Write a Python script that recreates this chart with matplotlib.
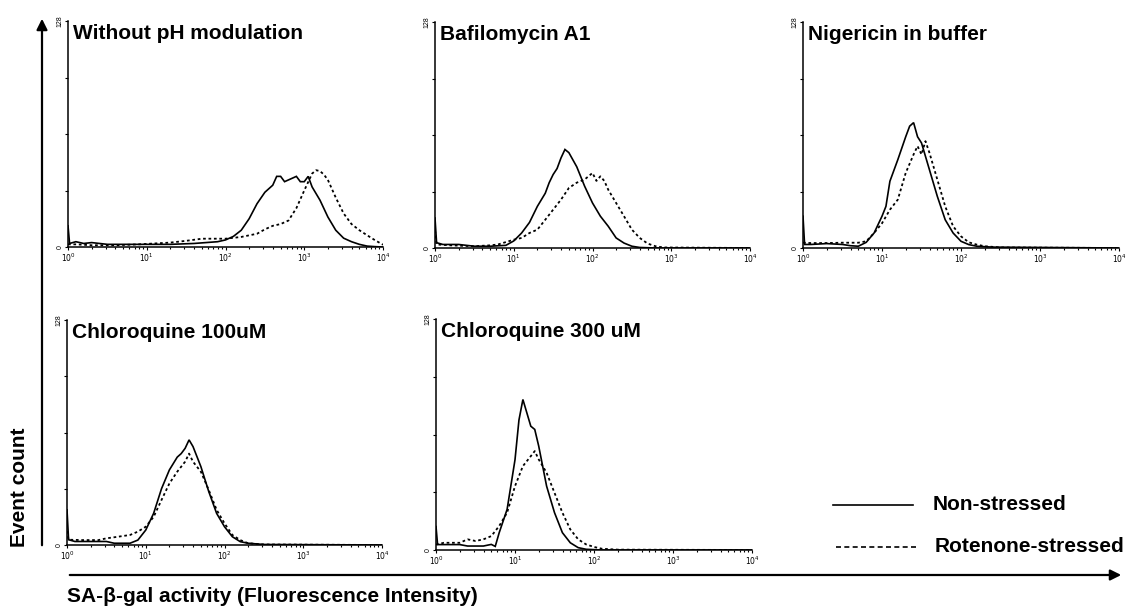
import numpy as np
import matplotlib
matplotlib.use("Agg")
import matplotlib.pyplot as plt
from matplotlib.ticker import FixedLocator, NullFormatter

plt.rcParams["font.family"] = ["Liberation Sans", "DejaVu Sans"]

# ── Histogram data: log10(fluorescence) positions and event counts ───────────

NOPH_SOLID_X = [0.0, 0.02, 0.1, 0.2, 0.3, 0.5, 0.8, 1.0, 1.3, 1.6, 1.9, 2.0, 2.1, 2.2, 2.3,
                2.4, 2.5, 2.6, 2.65, 2.7, 2.75, 2.8, 2.85, 2.9, 2.95, 3.0, 3.05, 3.1, 3.2,
                3.3, 3.4, 3.5, 3.6, 3.7, 3.8, 3.9, 4.0]
NOPH_SOLID_Y = [12, 2, 3, 2, 2.5, 1.5, 1.5, 1.5, 1.5, 2, 3, 4, 6, 9.5, 16,
                24.5, 31, 35, 40, 40, 37, 38, 39, 40, 37, 37, 40, 34, 26.5,
                17, 9.5, 5, 3, 1.5, 0.5, 0.2, 0]
NOPH_DOT_X = [0.0, 0.1, 0.3, 0.6, 0.9, 1.1, 1.3, 1.5, 1.7, 2.0, 2.2, 2.4, 2.5, 2.6, 2.7,
              2.8, 2.9, 3.0, 3.1, 3.15, 3.2, 3.25, 3.3, 3.4, 3.5, 3.6, 3.7, 3.8, 3.9, 4.0]
NOPH_DOT_Y = [1.5, 1.5, 1, 1, 1.5, 2, 2.5, 3.5, 4.7, 4.7, 5.7, 7.5, 10, 12, 13,
              15, 22, 32, 41.6, 43.5, 43, 41, 38, 28, 19, 13, 9.5, 6.6, 3.8, 1.3]

BAFI_SOLID_X = [0.0, 0.02, 0.1, 0.3, 0.5, 0.7, 0.9, 1.0, 1.1, 1.2, 1.3, 1.4, 1.45, 1.5,
                1.55, 1.6, 1.65, 1.7, 1.8, 1.9, 2.0, 2.1, 2.2, 2.3, 2.4, 2.5, 2.6, 2.8, 4.0]
BAFI_SOLID_Y = [17, 3, 2, 2, 1, 1, 1.5, 4, 8.5, 14.5, 23.6, 31, 37, 41.6,
                45, 51, 55.8, 54, 46, 35, 25.5, 18, 12.3, 5.7, 2.8, 1, 0.3, 0, 0]
BAFI_DOT_X = [0.0, 0.02, 0.2, 0.5, 0.7, 0.8, 1.0, 1.1, 1.2, 1.3, 1.4, 1.5, 1.6, 1.7, 1.8,
              1.9, 2.0, 2.05, 2.1, 2.15, 2.2, 2.3, 2.4, 2.5, 2.6, 2.7, 2.8, 2.9, 4.0]
BAFI_DOT_Y = [10, 2, 1.5, 1, 1.5, 2, 4.7, 5.7, 8.5, 10.4, 16, 21.7, 27.4, 34, 37,
              38.8, 42.5, 38, 40.6, 38, 33, 25.5, 18, 10.4, 5.7, 2.5, 1, 0.3, 0]

NIGE_SOLID_X = [0.0, 0.02, 0.1, 0.3, 0.5, 0.6, 0.7, 0.8, 0.9, 1.0, 1.05, 1.1, 1.2, 1.3,
                1.35, 1.4, 1.45, 1.5, 1.6, 1.7, 1.8, 1.9, 2.0, 2.1, 2.2, 2.4, 4.0]
NIGE_SOLID_Y = [18, 2, 2, 2.5, 2, 1.3, 1, 3.2, 8.5, 18, 23.6, 37.8, 50, 63,
                69, 71, 63, 59.5, 44.4, 29.3, 16, 8.5, 3.8, 1.9, 1, 0.5, 0]
NIGE_DOT_X = [0.0, 0.1, 0.3, 0.5, 0.7, 0.8, 0.9, 1.0, 1.1, 1.2, 1.3, 1.4, 1.45, 1.5,
              1.55, 1.6, 1.7, 1.8, 1.9, 2.0, 2.1, 2.2, 2.3, 2.5, 4.0]
NIGE_DOT_Y = [3, 2.8, 2.8, 3, 3, 3.8, 8.5, 14, 21.7, 27.4, 42.5, 53, 57.7, 53,
              60.5, 54, 38.8, 23.6, 12.3, 6.6, 3.2, 1.9, 1, 0.3, 0]

CQ100_SOLID_X = [0.0, 0.02, 0.1, 0.3, 0.5, 0.6, 0.8, 0.9, 1.0, 1.1, 1.2, 1.3, 1.4, 1.45,
                 1.5, 1.55, 1.6, 1.7, 1.8, 1.9, 2.0, 2.1, 2.2, 2.3, 2.5, 4.0]
CQ100_SOLID_Y = [20, 3, 2, 2, 2, 1, 1, 2.8, 8.5, 18, 32, 42.7, 50, 52,
                 55, 59.8, 56, 44.6, 30.4, 18, 10.4, 4.7, 1.9, 1, 0.3, 0]
CQ100_DOT_X = [0.0, 0.02, 0.2, 0.4, 0.5, 0.6, 0.8, 0.9, 1.0, 1.1, 1.2, 1.3, 1.4, 1.5,
               1.55, 1.6, 1.7, 1.8, 1.9, 2.0, 2.1, 2.2, 2.3, 2.5, 4.0]
CQ100_DOT_Y = [8, 3, 2.8, 2.8, 3.8, 4.4, 5.7, 7.6, 10.4, 16, 25.6, 35, 41.7, 47.4,
               52, 47.4, 41.7, 31.3, 20, 12.3, 5.7, 2.8, 1, 0.3, 0]

CQ300_SOLID_X = [0.0, 0.02, 0.1, 0.3, 0.4, 0.6, 0.7, 0.75, 0.8, 0.9, 1.0, 1.05, 1.1, 1.15,
                 1.2, 1.25, 1.3, 1.4, 1.5, 1.6, 1.7, 1.8, 1.9, 2.1, 4.0]
CQ300_SOLID_Y = [13, 3, 3, 3, 2.2, 2.2, 3.1, 2, 9.6, 22.5, 50, 72, 83.4, 76,
                 68.6, 66.8, 57.6, 35.4, 20.7, 9.6, 4, 1.3, 0.4, 0, 0]
CQ300_DOT_X = [0.0, 0.1, 0.3, 0.4, 0.5, 0.6, 0.7, 0.8, 0.9, 1.0, 1.1, 1.2, 1.25, 1.3,
               1.4, 1.5, 1.6, 1.7, 1.8, 1.9, 2.0, 2.1, 2.3, 4.0]
CQ300_DOT_Y = [3, 4, 4, 5.9, 5, 5.9, 7.7, 13.3, 20.7, 35.4, 46.5, 52, 54.8, 50.2,
               42.8, 31.7, 20.7, 11.4, 5.9, 3.1, 1.7, 0.7, 0.2, 0]

PANEL_TITLES = ["Without pH modulation", "Bafilomycin A1", "Nigericin in buffer",
                "Chloroquine 100uM", "Chloroquine 300 uM"]
PANEL_SERIES = [
    (NOPH_SOLID_X, NOPH_SOLID_Y, NOPH_DOT_X, NOPH_DOT_Y),
    (BAFI_SOLID_X, BAFI_SOLID_Y, BAFI_DOT_X, BAFI_DOT_Y),
    (NIGE_SOLID_X, NIGE_SOLID_Y, NIGE_DOT_X, NIGE_DOT_Y),
    (CQ100_SOLID_X, CQ100_SOLID_Y, CQ100_DOT_X, CQ100_DOT_Y),
    (CQ300_SOLID_X, CQ300_SOLID_Y, CQ300_DOT_X, CQ300_DOT_Y),
]
LEGEND_LABELS = ["Non-stressed", "Rotenone-stressed"]
Y_MAX = 128
DECADES = [1, 10, 100, 1000, 10000]
DECADE_LABELS = ["$10^0$", "$10^1$", "$10^2$", "$10^3$", "$10^4$"]

# ── Layout (pixels, origin top-left) ─────────────────────────────────────────

W, H = 1129, 608
PANEL_BOXES = [  # left, top, right, bottom
    (68, 21, 383, 247),
    (435, 22, 750, 248),
    (803, 22, 1119, 248),
    (67, 320, 382, 545),
    (436, 319, 752, 550),
]


def px_rect(l, t, r, b):
    return [l / W, 1 - b / H, (r - l) / W, (b - t) / H]


def px(x, y):
    return (x / W, 1 - y / H)


fig = plt.figure(figsize=(W / 100, H / 100), dpi=100)
fig.patch.set_facecolor("white")

minor = [m * d for d in DECADES[:-1] for m in range(2, 10)]

for box, title, (sx, sy, dx, dy) in zip(PANEL_BOXES, PANEL_TITLES, PANEL_SERIES):
    ax = fig.add_axes(px_rect(*box))
    ax.plot(10 ** np.array(sx), sy, color="black", lw=1.2, solid_joinstyle="miter")
    ax.plot(10 ** np.array(dx), dy, color="black", lw=1.3, linestyle=(0, (1.5, 1.5)))

    ax.set_xscale("log")
    ax.set_xlim(1, 10000)
    ax.set_ylim(0, Y_MAX)
    for side in ("top", "right"):
        ax.spines[side].set_visible(False)
    for side in ("left", "bottom"):
        ax.spines[side].set_linewidth(1.1)

    ax.xaxis.set_major_locator(FixedLocator(DECADES))
    ax.xaxis.set_minor_locator(FixedLocator(minor))
    ax.xaxis.set_minor_formatter(NullFormatter())
    ax.set_xticklabels(DECADE_LABELS, fontsize=5.5)
    ax.tick_params(axis="x", which="major", length=2.5, width=0.8, pad=0.5)
    ax.tick_params(axis="x", which="minor", length=1.5, width=0.8)

    ax.set_yticks([0, 32, 64, 96, 128])
    ax.set_yticklabels(["0", "", "", "", "128"], fontsize=5, rotation=90, va="center")
    ax.tick_params(axis="y", length=2, width=0.8, pad=1)

    ax.text(0.015, 0.985, title, transform=ax.transAxes, ha="left", va="top",
            fontsize=15, fontweight="bold")

# Big axis arrows spanning the whole figure
fig.add_artist(matplotlib.patches.FancyArrowPatch(
    px(42, 548), px(42, 16), transform=fig.transFigure,
    arrowstyle="-|>", mutation_scale=16, lw=1.6, color="black"))
fig.add_artist(matplotlib.patches.FancyArrowPatch(
    px(67, 575), px(1124, 575), transform=fig.transFigure,
    arrowstyle="-|>", mutation_scale=16, lw=1.6, color="black"))

fig.text(*px(20, 487), "Event count", rotation=90, ha="center", va="center",
         fontsize=15, fontweight="bold")
fig.text(*px(67, 597), "SA-\u03b2-gal activity (Fluorescence Intensity)",
         ha="left", va="center", fontsize=15, fontweight="bold")

# Legend drawn by hand at the lower right
fig.add_artist(matplotlib.lines.Line2D(
    [833 / W, 913 / W], [1 - 505 / H] * 2, color="black", lw=1.2))
fig.add_artist(matplotlib.lines.Line2D(
    [836 / W, 916 / W], [1 - 547 / H] * 2, color="black", lw=1.2,
    linestyle=(0, (3, 2))))
fig.text(*px(933, 505), LEGEND_LABELS[0], ha="left", va="center",
         fontsize=15, fontweight="bold")
fig.text(*px(935, 547), LEGEND_LABELS[1], ha="left", va="center",
         fontsize=15, fontweight="bold")

fig.savefig("out.png", dpi=100, facecolor="white")
